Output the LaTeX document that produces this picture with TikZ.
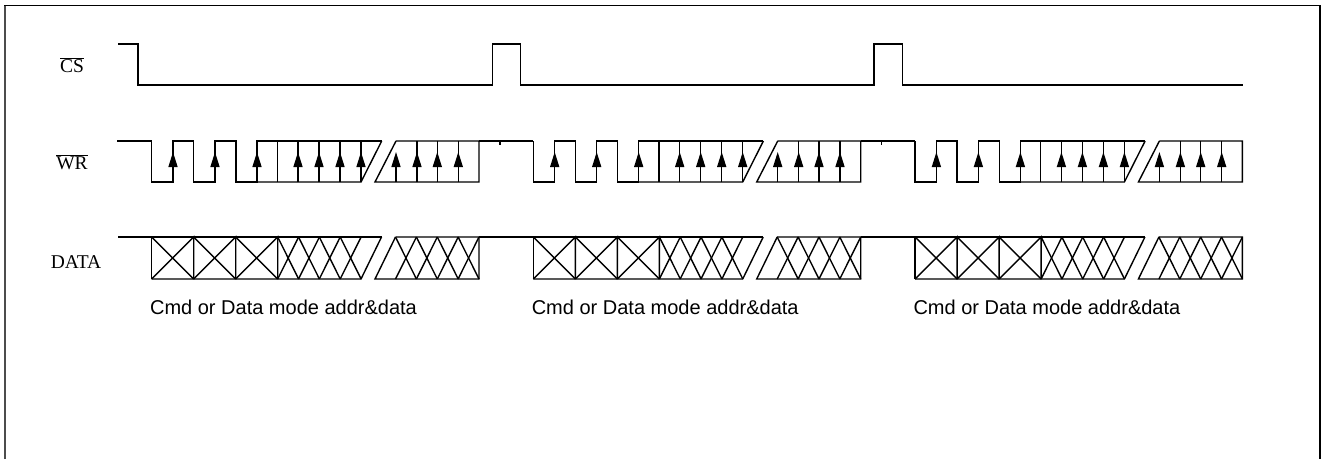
\documentclass[tikz,border=0pt]{standalone}
\usepackage{fontspec}
\setmainfont{Liberation Serif}
\newfontfamily\capfont{Liberation Sans}
\usepackage{tikz}
\usetikzlibrary{arrows.meta}
\tikzset{
    signal/.style={ % Sets the properties for each waveform
        line width=1.4pt,
        line join=miter
    },
    edgearrow/.style={ % Rising edge marks on WR
        line width=1.4pt,
        -{Triangle[length=15pt,width=9pt]}
    },
    siglabel/.style={font=\fontsize{19.5}{22}\selectfont, inner sep=0pt},
    caption/.style={font=\capfont\fontsize{20}{23}\selectfont, inner sep=0pt}
}

\begin{document}
\begin{tikzpicture}[x=1pt,y=-1pt]
            \useasboundingbox (0,0) rectangle (1322,459);
            % frame, cut off at the bottom
            \draw[line width=1.4pt, black!70] (5,459) -- (5,5.5);
            \draw[line width=1.8pt] (4.3,5.5) -- (1320,5.5) -- (1320,459);

            \node[siglabel] (cs) at (72,65) {$\overline{\hbox{CS}}$};
            \node[siglabel] (wr) at (72,162) {$\overline{\hbox{WR}}$};
            \node[siglabel] (data) at (76,262) {DATA};

            % CS
            \draw[signal] (118,44) -- (138,44) -- (138,85) -- (492.3,85) -- (492.3,44) -- (520.7,44) -- (520.7,85)
                -- (874,85) -- (874,44) -- (902.4,44) -- (902.4,85) -- (1242.7,85);

            % idle levels before the first frame
            \draw[signal] (117.3,141) -- (151.7,141);
            \draw[signal] (118,237) -- (151.7,237);

            \foreach \o [count=\i] in {0,381.7,763.4} {
                % WR
                \draw[signal] ({151.7+\o},141) -- ({151.7+\o},182) -- ({173+\o},182) -- ({173+\o},141) -- ({193.5+\o},141)
                    -- ({193.5+\o},182) -- ({215+\o},182) -- ({215+\o},141) -- ({236+\o},141) -- ({236+\o},182)
                    -- ({257+\o},182) -- ({257+\o},141) -- ({381.7+\o},141);
                \draw[signal] ({257+\o},182) -- ({361+\o},182) -- ({381.7+\o},141);
                \draw[signal] ({396+\o},141) -- ({375+\o},182) -- ({479+\o},182) -- ({479+\o},141) -- ({396+\o},141);
                \foreach \v in {277.3,298,319,340,361,417,437.3,458.3}
                    \draw[signal] ({\v+\o},182) -- ({\v+\o},141);
                \foreach \a in {173,215,257,298,319,340,361,396,417,437.3,458.3}
                    \draw[edgearrow] ({\a+\o},182) -- ({\a+\o},152);

                % DATA
                \draw[signal] ({151.7+\o},279) -- ({151.7+\o},237) -- ({381.5+\o},237);
                \draw[signal] ({151.7+\o},279) -- ({361+\o},279) -- ({381.5+\o},237);
                \draw[signal] ({395.5+\o},237) -- ({375+\o},279) -- ({479+\o},279) -- ({479+\o},237) -- ({395.5+\o},237);
                \foreach \b in {151.7,193.7,235.7} {
                    \draw[signal] ({\b+\o},237) -- ({\b+42+\o},279);
                    \draw[signal] ({\b+\o},279) -- ({\b+42+\o},237) -- ({\b+42+\o},279);
                }
                \foreach \b in {277.7,298.5,319.3,340.2,395.5,416.4,437.3,458.1} {
                    \draw[signal] ({\b+\o},237) -- ({\b+20.9+\o},279);
                    \draw[signal] ({\b+\o},279) -- ({\b+20.9+\o},237);
                }

                \node[caption] (cap\i) at ({283.5+\o},307) {Cmd or Data mode addr\&data};
            }

            % idle between frames
            \foreach \o in {0,381.7} {
                \draw[signal] ({479+\o},141) -- ({533.4+\o},141);
                \draw[signal] ({500+\o},141) -- ({500+\o},145);
                \draw[signal] ({479+\o},237) -- ({533.4+\o},237);
            }

        \end{tikzpicture}
\end{document}
